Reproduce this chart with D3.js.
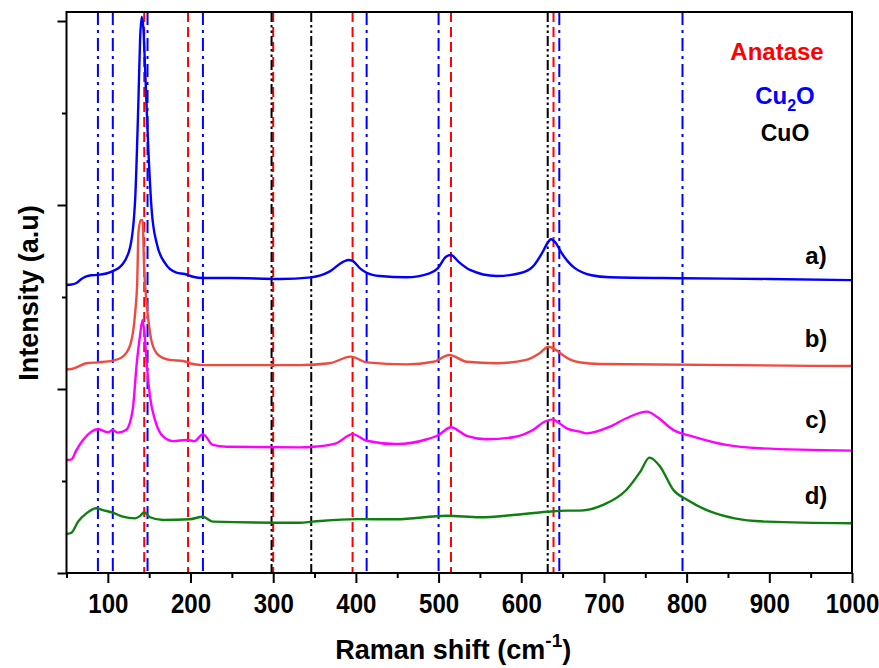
<!DOCTYPE html>
<html>
<head>
<meta charset="utf-8">
<script src="https://cdn.jsdelivr.net/npm/d3@7"></script>
<style>
  html, body { margin: 0; padding: 0; background: #fff; }
  svg { display: block; font-family: "Liberation Sans", Arial, sans-serif; }
</style>
</head>
<body>
<svg id="chart" width="879" height="668"></svg>
<script>
// ---------------- data ----------------
const xTickValues = [100, 200, 300, 400, 500, 600, 700, 800, 900, 1000];
const xMinorTicks = [50, 150, 250, 350, 450, 550, 650, 750, 850, 950];
const yMajorTicks = [0, 10, 20, 30];
const yMinorTicks = [5, 15, 25];

const anataseLines = [144, 197, 300, 396, 515, 639];
const cu2oLines = [88, 106, 148, 215, 413, 500, 646, 795];
const cuoLines = [298, 346, 632];

const seriesLabels = ["a)", "b)", "c)", "d)"];
const legendLabels = ["Anatase", "Cu2O", "CuO"];

// spectrum a) (blue)
const shiftA = [50, 56, 62, 68, 74, 80, 88, 106, 117, 127, 133, 137, 139, 141, 143, 145, 149, 153, 159, 169, 183, 193, 203, 215, 250, 308, 346, 368, 385, 391, 396, 405, 413, 429, 461, 489, 499, 509, 515, 524, 538, 570, 598, 614, 626, 631, 636, 642, 648, 656, 664, 673, 685, 707, 795, 900, 999];
const intA = [15.65, 15.68, 15.76, 15.98, 16.12, 16.18, 16.20, 16.41, 16.74, 17.72, 20.27, 25.71, 29.0, 30.22, 29.6, 27.50, 22.99, 19.73, 17.93, 16.85, 16.32, 16.25, 16.10, 16.03, 16.03, 15.98, 16.07, 16.38, 16.92, 17.01, 16.96, 16.56, 16.32, 16.14, 16.07, 16.29, 16.56, 17.19, 17.28, 16.92, 16.47, 16.14, 16.29, 16.65, 17.46, 17.88, 18.14, 17.92, 17.45, 16.95, 16.60, 16.36, 16.18, 16.07, 16.02, 15.98, 15.92];

// spectrum b) (red)
const shiftB = [50, 56, 62, 74, 88, 106, 117, 127, 133, 135.6, 137, 139.7, 142, 144, 146, 149, 153, 161, 175, 191, 203, 215, 332, 368, 394, 413, 461, 494, 513, 534, 570, 606, 622, 633, 642, 650, 660, 672, 695, 999];
const intB = [11.07, 11.09, 11.18, 11.40, 11.45, 11.54, 11.72, 12.39, 14.13, 15.92, 18.48, 19.18, 19.18, 16.47, 15.11, 13.75, 12.57, 11.85, 11.58, 11.52, 11.36, 11.30, 11.30, 11.40, 11.76, 11.45, 11.34, 11.48, 11.85, 11.48, 11.40, 11.58, 11.94, 12.30, 12.12, 11.85, 11.58, 11.44, 11.36, 11.25];

// spectrum c) (magenta)
const shiftC = [50, 56, 62, 70, 80, 88, 100, 106, 112, 122, 130, 135, 139, 142, 144.5, 147, 151, 157, 167, 179, 195, 205, 215, 227, 243, 332, 348, 376, 396, 413, 449, 486, 500, 515, 534, 558, 590, 614, 628, 638, 646, 655, 671, 679, 707, 727, 752, 764, 784, 808, 848, 888, 999];
const intC = [6.14, 6.18, 6.68, 7.23, 7.68, 7.83, 7.65, 7.77, 7.63, 7.77, 8.86, 11.41, 12.93, 13.75, 12.93, 11.40, 9.58, 8.32, 7.41, 7.17, 7.23, 7.17, 7.55, 6.96, 6.86, 6.83, 6.86, 7.05, 7.55, 7.19, 7.01, 7.27, 7.50, 7.92, 7.45, 7.27, 7.38, 7.77, 8.22, 8.35, 8.14, 7.86, 7.68, 7.59, 7.95, 8.41, 8.77, 8.49, 7.77, 7.41, 6.96, 6.78, 6.65];

// spectrum d) (green)
const shiftD = [50, 56, 64, 74, 86, 94, 106, 118, 133, 139, 144, 151, 167, 199, 215, 227, 332, 348, 401, 449, 510, 550, 590, 631, 655, 671, 699, 727, 744, 755, 768, 784, 801, 829, 858, 898, 999];
const intD = [2.12, 2.19, 2.79, 3.24, 3.52, 3.42, 3.28, 3.06, 2.97, 3.10, 3.30, 3.03, 2.88, 2.92, 3.06, 2.79, 2.73, 2.79, 2.93, 2.92, 3.11, 3.03, 3.15, 3.33, 3.39, 3.39, 3.70, 4.51, 5.51, 6.27, 5.78, 4.51, 3.97, 3.33, 2.97, 2.79, 2.70];

// label anchor intensities (where each series label sits)
const labelLevels = [16.4, 11.9, 7.5, 3.35];

// ---------------- layout ----------------
const svg = d3.select("#chart");
const M = { left: 66.5, right: 852, top: 12, bottom: 573 };

const x = d3.scaleLinear().domain([50, 1000]).range([M.left, M.right]);
const y = d3.scaleLinear().domain([0, 30.49]).range([M.bottom, M.top]);

const colors = ["#0000ff", "#ef4a3f", "#ff00ff", "#0f800f"];
const series = [
  [shiftA, intA], [shiftB, intB], [shiftC, intC], [shiftD, intD]
];

// reference lines
const refGroups = [
  { vals: cu2oLines, color: "#0000ff", dash: "13,5,3,5" },
  { vals: anataseLines, color: "#ff0000", dash: "10,5" },
  { vals: cuoLines, color: "#000000", dash: "10,3,2.5,3,2.5,3" }
];
refGroups.forEach(g => {
  svg.append("g").selectAll("line").data(g.vals).join("line")
    .attr("x1", d => x(d)).attr("x2", d => x(d))
    .attr("y1", M.top).attr("y2", M.bottom)
    .attr("stroke", g.color).attr("stroke-width", 2)
    .attr("stroke-dasharray", g.dash);
});

// spectra
const line = d3.line().x(d => x(d[0])).y(d => y(d[1])).curve(d3.curveMonotoneX);
series.forEach((s, i) => {
  const pts = s[0].map((v, k) => [v, s[1][k]]);
  svg.append("path").datum(pts)
    .attr("fill", "none").attr("stroke", colors[i])
    .attr("stroke-width", 2.4).attr("stroke-linejoin", "round")
    .attr("d", line);
});

// frame
svg.append("rect")
  .attr("x", M.left).attr("y", M.top)
  .attr("width", M.right - M.left).attr("height", M.bottom - M.top)
  .attr("fill", "none").attr("stroke", "#000").attr("stroke-width", 2);

// x axis
const gx = svg.append("g").attr("transform", `translate(0,${M.bottom})`);
gx.call(d3.axisBottom(x).tickValues(xTickValues).tickSize(10).tickFormat(d3.format("d")));
gx.select(".domain").remove();
gx.selectAll(".tick line").attr("stroke", "#000").attr("stroke-width", 2);
gx.selectAll(".tick text")
  .attr("y", 0).attr("dy", 0)
  .attr("transform", "translate(0,40) scale(0.86,1)")
  .attr("font-size", 28).attr("font-weight", "bold")
  .attr("font-family", "Liberation Sans, Arial, sans-serif")
  .attr("fill", "#000");
const gxm = svg.append("g").attr("transform", `translate(0,${M.bottom})`);
gxm.call(d3.axisBottom(x).tickValues(xMinorTicks).tickSize(5).tickFormat(""));
gxm.select(".domain").remove();
gxm.selectAll(".tick line").attr("stroke", "#000").attr("stroke-width", 2);

// y axis
const gy = svg.append("g").attr("transform", `translate(${M.left},0)`);
gy.call(d3.axisLeft(y).tickValues(yMajorTicks).tickSize(9).tickFormat(""));
gy.select(".domain").remove();
gy.selectAll(".tick line").attr("stroke", "#000").attr("stroke-width", 2);
const gym = svg.append("g").attr("transform", `translate(${M.left},0)`);
gym.call(d3.axisLeft(y).tickValues(yMinorTicks).tickSize(4.5).tickFormat(""));
gym.select(".domain").remove();
gym.selectAll(".tick line").attr("stroke", "#000").attr("stroke-width", 2);

// axis titles
const xt = svg.append("text")
  .attr("x", (M.left + M.right) / 2 - 6).attr("y", 659)
  .attr("text-anchor", "middle").attr("font-size", 27).attr("font-weight", "bold");
xt.append("tspan").text("Raman shift (cm");
xt.append("tspan").attr("font-size", 19).attr("dy", -12).text("-1");
xt.append("tspan").attr("dy", 12).text(")");

svg.append("text")
  .attr("transform", `translate(38,${293}) rotate(-90)`)
  .attr("text-anchor", "middle").attr("font-size", 27).attr("font-weight", "bold")
  .text("Intensity (a.u)");

// series labels
seriesLabels.forEach((t, i) => {
  svg.append("text")
    .attr("x", 816).attr("y", y(labelLevels[i]) - 7)
    .attr("text-anchor", "middle").attr("font-size", 24).attr("font-weight", "bold")
    .text(t);
});

// legend
svg.append("text").attr("x", 777).attr("y", 60).attr("text-anchor", "middle")
  .attr("font-size", 24).attr("font-weight", "bold").attr("fill", "#ff0000")
  .text(legendLabels[0]);
const cu = svg.append("text").attr("x", 785).attr("y", 104).attr("text-anchor", "middle")
  .attr("font-size", 24).attr("font-weight", "bold").attr("fill", "#0000ff");
cu.append("tspan").text("Cu");
cu.append("tspan").attr("font-size", 16).attr("dy", 7).text("2");
cu.append("tspan").attr("dy", -7).text("O");
svg.append("text").attr("x", 785).attr("y", 141).attr("text-anchor", "middle")
  .attr("font-size", 23).attr("font-weight", "bold").attr("fill", "#000")
  .text(legendLabels[2]);
</script>
</body>
</html>
